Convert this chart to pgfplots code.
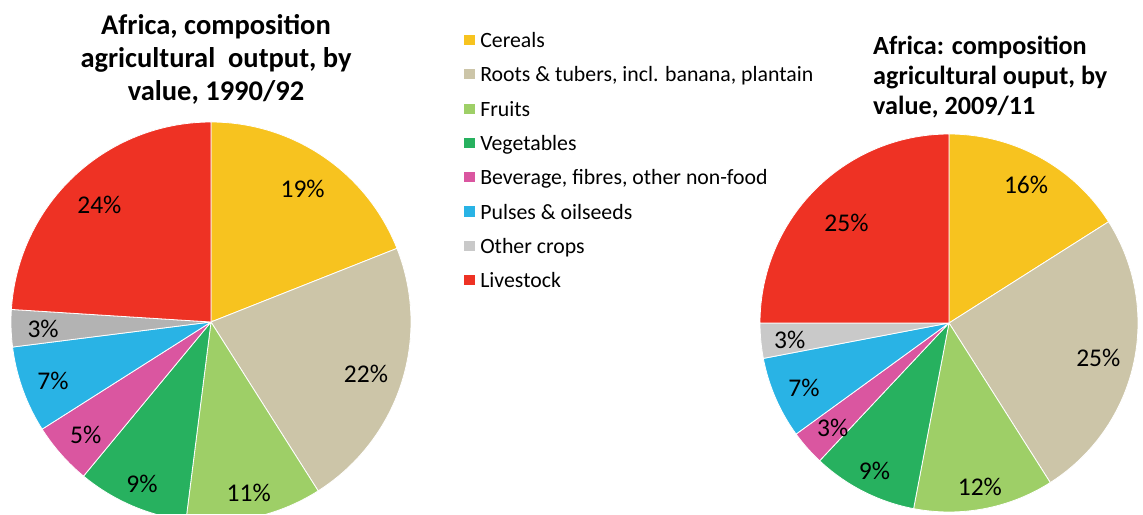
\documentclass[border=0pt]{standalone}
\usepackage{fontspec}
\setmainfont{Carlito}
\usepackage{pgfplots}
\usepackage{pgfplotstable}
\pgfplotsset{compat=1.18}

\definecolor{cereal}{HTML}{F7C31F}
\definecolor{roots}{HTML}{CCC5A8}
\definecolor{fruit}{HTML}{9ECF67}
\definecolor{veg}{HTML}{27B15F}
\definecolor{bev}{HTML}{DA56A0}
\definecolor{pulse}{HTML}{29B3E5}
\definecolor{otherA}{HTML}{B3B3B3}
\definecolor{otherB}{HTML}{C9C9C9}
\definecolor{live}{HTML}{EE3224}

% shares (%), clockwise from 12 o'clock
\pgfplotstableread{
share
19
22
11
9
5
7
3
24
}\early
\pgfplotstableread{
share
16
25
12
9
3
7
3
25
}\late

\newcommand\pctfont{\fontsize{25.5}{30}\selectfont}
\gdef\cum{0}
% \slice[opts]{cx}{cy}{r}{label r}{table}{row}{color}
\newcommand\slice[8][]{%
  \pgfplotstablegetelem{#7}{share}\of#6%
  \let\v\pgfplotsretval
  \pgfmathsetmacro\sa{3.6*\cum}%
  \pgfmathsetmacro\ea{3.6*(\cum+\v)}%
  \pgfmathsetmacro\ma{3.6*(\cum+\v/2)}%
  \pgfmathsetmacro\lx{#2+#5*sin(\ma)}%
  \pgfmathsetmacro\ly{#3+#5*cos(\ma)}%
  \edef\doit{\noexpand\addplot[#1,fill=#8,draw=white,line width=0.8pt,domain=\sa:\ea,samples=61]
    ({#2+#4*sin(x)},{#3+#4*cos(x)}) -- (axis cs:#2,#3) -- cycle;
    \noexpand\node[font=\noexpand\pctfont,text=black,yshift=-2pt] at (axis cs:\lx,\ly) {\v\noexpand\%};}%
  \doit
  \pgfmathsetmacro\newcum{\cum+\v}\xdef\cum{\newcum}%
}

\begin{document}
\begin{tikzpicture}
\begin{axis}[
  x=1pt, y=1pt, xmin=0, xmax=1143, ymin=0, ymax=514,
  scale only axis, hide axis, clip=true,
  legend cell align=left,
  legend image code/.code={\fill (0pt,-5.6pt) rectangle (11.5pt,5.6pt);},
  legend style={at={(axis cs:463,481.7)}, anchor=north west, draw=none, fill=none,
    inner sep=0pt, outer sep=0pt, row sep=18.9pt, column sep=5pt,
    font=\fontsize{21.8}{25}\selectfont,
    nodes={inner sep=0pt, outer sep=0pt, text height=15.4pt, text depth=0pt}},
]
% ---- pie 1990/92
\xdef\cum{0}
\slice[forget plot]{211}{192}{200}{163}{\early}{0}{cereal}
\slice[forget plot]{211}{192}{200}{163}{\early}{1}{roots}
\slice[forget plot]{211}{192}{200}{173}{\early}{2}{fruit}
\slice[forget plot]{211}{192}{200}{174}{\early}{3}{veg}
\slice[forget plot]{211}{192}{200}{167}{\early}{4}{bev}
\slice[forget plot]{211}{192}{200}{168}{\early}{5}{pulse}
\slice[forget plot]{211}{192}{200}{168}{\early}{6}{otherA}
\slice[forget plot]{211}{192}{200}{163}{\early}{7}{live}
% ---- pie 2009/11
\xdef\cum{0}
\slice{949}{191}{189}{160}{\late}{0}{cereal}
\addlegendentry{Cereals}
\slice{949}{191}{189}{153}{\late}{1}{roots}
\addlegendentry{Roots \& tubers, incl. banana, plantain}
\slice{949}{191}{189}{165}{\late}{2}{fruit}
\addlegendentry{Fruits}
\slice{949}{191}{189}{164}{\late}{3}{veg}
\addlegendentry{Vegetables}
\slice{949}{191}{189}{155}{\late}{4}{bev}
\addlegendentry{Beverage, fibres, other non-food}
\slice{949}{191}{189}{158}{\late}{5}{pulse}
\addlegendentry{Pulses \& oilseeds}
\slice{949}{191}{189}{160}{\late}{6}{otherB}
\addlegendentry{Other crops}
\slice{949}{191}{189}{145}{\late}{7}{live}
\addlegendentry{Livestock}
% ---- titles
\node[font=\fontsize{28.5}{34}\selectfont\bfseries, anchor=base] at (axis cs:216,479) {Africa, composition};
\node[font=\fontsize{28.5}{34}\selectfont\bfseries, anchor=base] at (axis cs:216,446) {agricultural~ output, by};
\node[font=\fontsize{28.5}{34}\selectfont\bfseries, anchor=base] at (axis cs:216,413) {value, 1990/92};
\node[font=\fontsize{26.2}{31}\selectfont\bfseries, anchor=base west, inner xsep=0pt] at (axis cs:873,459) {Africa: composition};
\node[font=\fontsize{26.2}{31}\selectfont\bfseries, anchor=base west, inner xsep=0pt] at (axis cs:873,429) {agricultural ouput, by};
\node[font=\fontsize{26.2}{31}\selectfont\bfseries, anchor=base west, inner xsep=0pt] at (axis cs:873,399) {value, 2009/11};
\end{axis}
\pgfresetboundingbox
\path[use as bounding box] (current axis.south west) rectangle (current axis.north east);
\end{tikzpicture}
\end{document}
